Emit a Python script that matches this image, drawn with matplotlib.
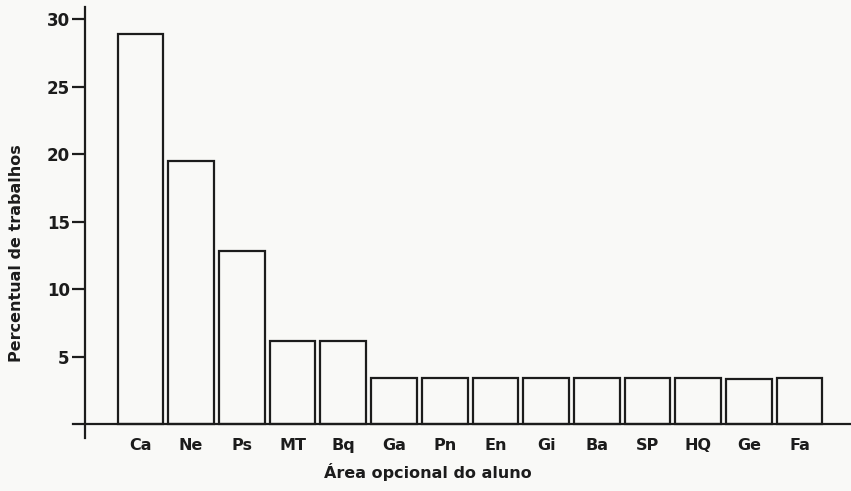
import matplotlib
matplotlib.use('Agg')
import matplotlib.pyplot as plt
import numpy as np

# dados
areas = ['Ca', 'Ne', 'Ps', 'MT', 'Bq', 'Ga', 'Pn', 'En', 'Gi', 'Ba', 'SP', 'HQ', 'Ge', 'Fa']
percentual = [28.9, 19.5, 12.85, 6.15, 6.2, 3.4, 3.4, 3.45, 3.4, 3.4, 3.4, 3.4, 3.35, 3.4]
yticks = [5, 10, 15, 20, 25, 30]

plt.rcParams['font.family'] = ['DejaVu Sans']
fundo = '#f9f9f7'
tinta = '#1c1c1c'

fig = plt.figure(figsize=(8.51, 4.91), dpi=100, facecolor=fundo)
ax = fig.add_axes([73 / 851, 53 / 491, 1 - 73 / 851, (438 - 7) / 491])
ax.set_facecolor(fundo)

x = np.arange(len(areas))
ax.bar(x, percentual, width=0.9, color=fundo, edgecolor=tinta, linewidth=1.6)

ax.set_xlim(-1.331, 14.014)
ax.set_ylim(-1.01, 30.91)

for s in ['top', 'right']:
    ax.spines[s].set_visible(False)
ax.spines['left'].set_position(('data', -1.095))
ax.spines['bottom'].set_position(('data', 0))
ax.spines['left'].set_linewidth(1.6)
ax.spines['bottom'].set_linewidth(1.6)
ax.spines['left'].set_color(tinta)
ax.spines['bottom'].set_color(tinta)

ax.set_yticks(yticks)
ax.set_yticklabels([str(v) for v in yticks], fontsize=12, fontweight='bold', color=tinta)
ax.tick_params(axis='y', length=9.5, width=1.6, color=tinta, pad=1.5)

ax.set_xticks(x)
ax.set_xticklabels(areas, fontsize=11.5, fontweight='bold', color=tinta)
ax.tick_params(axis='x', length=0, pad=10)

fig.text(16.5 / 851, 1 - 253.5 / 491, 'Percentual de trabalhos', rotation=90,
         ha='center', va='center', fontsize=11.5, fontweight='bold', color=tinta)
fig.text(427.5 / 851, 1 - 472 / 491, 'Área opcional do aluno',
         ha='center', va='center', fontsize=11.5, fontweight='bold', color=tinta)

fig.savefig('out.png', dpi=100, facecolor=fundo)
